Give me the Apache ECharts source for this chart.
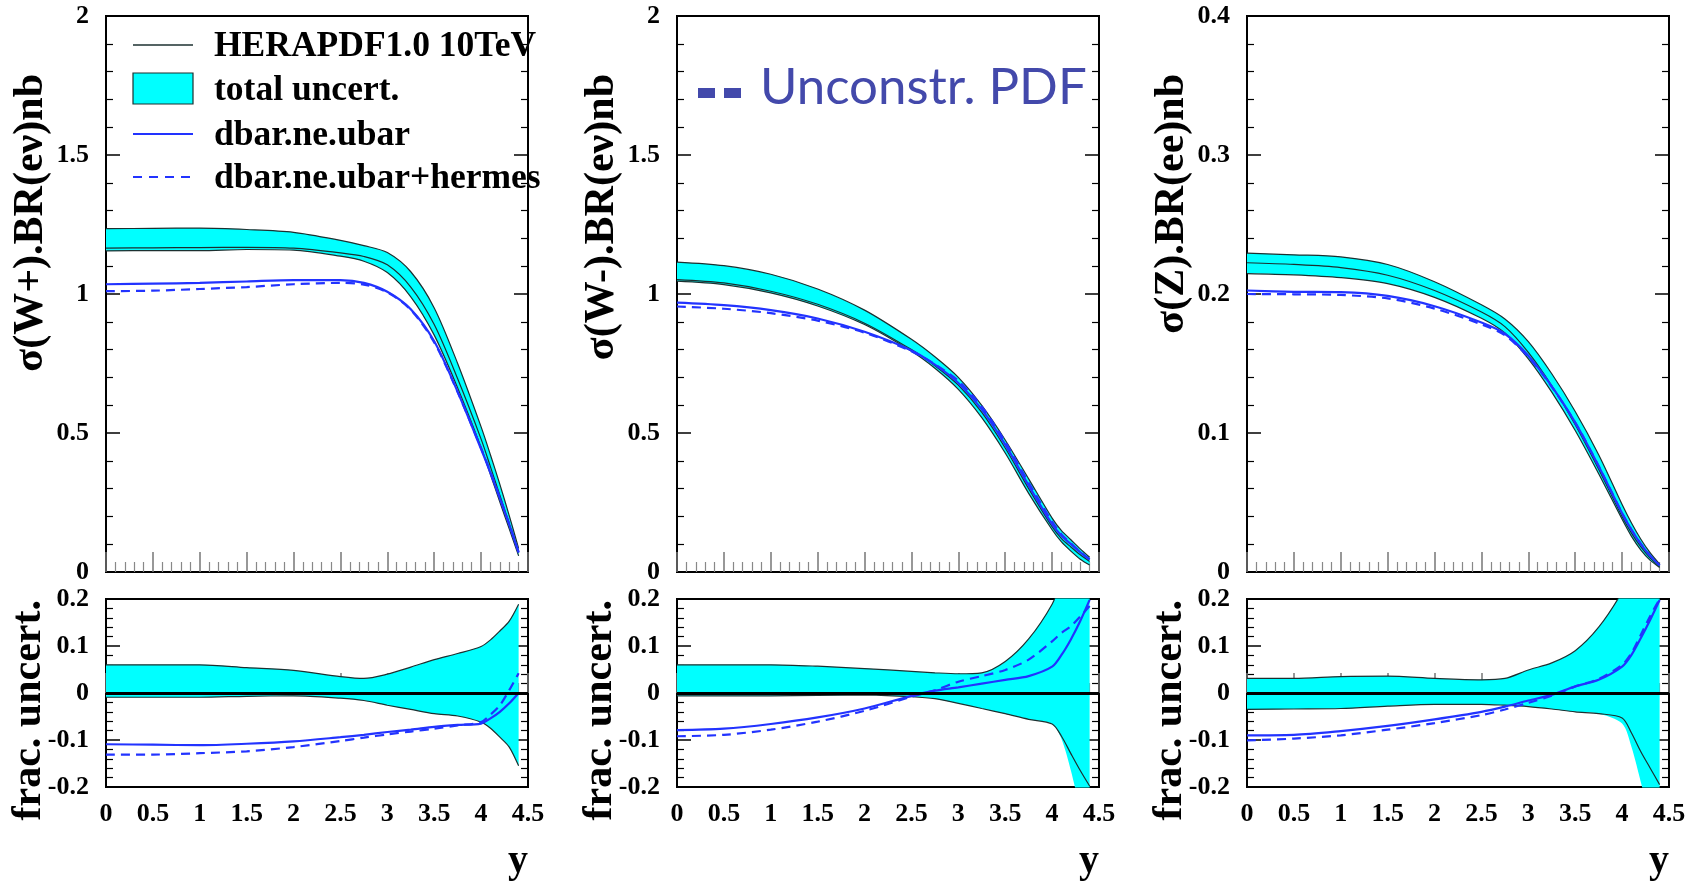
<!DOCTYPE html>
<html>
<head>
<meta charset="utf-8">
<title>W+, W-, Z rapidity distributions</title>
<script src="https://cdn.jsdelivr.net/npm/echarts@6/dist/echarts.min.js"></script>
<style>
    html, body {margin: 0; padding: 0; background: #fff;}
    #main {width: 1693px; height: 887px;}
</style>
</head>
<body>
<div id="main"></div>
<script>
// y points shared by every curve
var xs = [0, 0.5, 1, 1.5, 2, 2.5, 2.75, 3, 3.25, 3.5, 3.75, 4, 4.1, 4.2, 4.3, 4.4];

// sigma(W+).BR(ev) nb
var wpUp   = [1.235, 1.236, 1.237, 1.232, 1.222, 1.193, 1.174, 1.149, 1.080, 0.950, 0.750, 0.522, 0.421, 0.315, 0.203, 0.085];
var wpLo   = [1.155, 1.156, 1.156, 1.160, 1.158, 1.136, 1.118, 1.077, 0.990, 0.852, 0.662, 0.448, 0.350, 0.252, 0.155, 0.058];
var wpCen  = [1.165, 1.166, 1.167, 1.168, 1.165, 1.148, 1.135, 1.105, 1.025, 0.890, 0.695, 0.478, 0.378, 0.276, 0.174, 0.070];
var wpUbar = [1.035, 1.037, 1.040, 1.045, 1.050, 1.050, 1.040, 1.008, 0.945, 0.830, 0.648, 0.442, 0.356, 0.265, 0.170, 0.070];
var wpHerm = [1.010, 1.012, 1.018, 1.025, 1.035, 1.040, 1.034, 1.006, 0.943, 0.826, 0.647, 0.445, 0.360, 0.268, 0.173, 0.072];
// frac. uncert. W+
var wpFUp   = [0.060, 0.060, 0.060, 0.054, 0.048, 0.035, 0.031, 0.040, 0.055, 0.071, 0.084, 0.099, 0.113, 0.132, 0.153, 0.189];
var wpFLo   = [-0.009, -0.009, -0.009, -0.007, -0.006, -0.011, -0.016, -0.026, -0.035, -0.044, -0.049, -0.062, -0.075, -0.094, -0.115, -0.155];
var wpFUbar = [-0.109, -0.110, -0.111, -0.108, -0.103, -0.094, -0.089, -0.083, -0.078, -0.072, -0.068, -0.065, -0.054, -0.040, -0.022, 0.000];
var wpFHerm = [-0.131, -0.131, -0.128, -0.124, -0.115, -0.102, -0.095, -0.088, -0.082, -0.076, -0.069, -0.062, -0.046, -0.026, 0.006, 0.042];

// sigma(W-).BR(ev) nb
var wmUp   = [1.115, 1.102, 1.071, 1.018, 0.942, 0.837, 0.774, 0.700, 0.599, 0.475, 0.335, 0.194, 0.149, 0.116, 0.083, 0.053];
var wmLo   = [1.046, 1.034, 1.004, 0.957, 0.890, 0.794, 0.733, 0.657, 0.555, 0.428, 0.283, 0.152, 0.108, 0.075, 0.046, 0.025];
var wmCen  = [1.052, 1.040, 1.010, 0.963, 0.895, 0.800, 0.742, 0.672, 0.574, 0.446, 0.300, 0.163, 0.120, 0.090, 0.062, 0.038];
var wmUbar = [0.969, 0.960, 0.942, 0.912, 0.864, 0.797, 0.746, 0.680, 0.585, 0.458, 0.311, 0.172, 0.130, 0.100, 0.071, 0.045];
var wmHerm = [0.955, 0.947, 0.931, 0.904, 0.861, 0.794, 0.747, 0.688, 0.595, 0.468, 0.321, 0.181, 0.135, 0.103, 0.072, 0.045];
// frac. uncert. W-
var wmFUp   = [0.060, 0.060, 0.060, 0.057, 0.052, 0.046, 0.043, 0.041, 0.043, 0.067, 0.115, 0.189, 0.240, 0.290, 0.340, 0.390];
var wmFLo   = [-0.006, -0.006, -0.006, -0.005, -0.004, -0.008, -0.012, -0.022, -0.033, -0.044, -0.056, -0.066, -0.098, -0.165, -0.250, -0.340];
var wmFEdge = [-0.006, -0.006, -0.006, -0.005, -0.004, -0.008, -0.012, -0.022, -0.033, -0.044, -0.056, -0.066, -0.092, -0.129, -0.165, -0.198];
var wmFUbar = [-0.079, -0.076, -0.066, -0.052, -0.033, -0.006, 0.005, 0.012, 0.020, 0.028, 0.036, 0.056, 0.081, 0.114, 0.153, 0.198];
var wmFHerm = [-0.092, -0.089, -0.078, -0.061, -0.038, -0.008, 0.006, 0.024, 0.036, 0.049, 0.071, 0.110, 0.128, 0.142, 0.163, 0.185];

// sigma(Z).BR(ee) nb
var zUp   = [0.2294, 0.2282, 0.2267, 0.2212, 0.2088, 0.1922, 0.1820, 0.1657, 0.1426, 0.1155, 0.0844, 0.0486, 0.0353, 0.0236, 0.0137, 0.0057];
var zLo   = [0.2147, 0.2138, 0.2118, 0.2075, 0.1976, 0.1825, 0.1719, 0.1534, 0.1294, 0.1018, 0.0707, 0.0379, 0.0256, 0.0158, 0.0084, 0.0032];
var zCen  = [0.2225, 0.2213, 0.2190, 0.2135, 0.2025, 0.1870, 0.1765, 0.1580, 0.1340, 0.1060, 0.0740, 0.0400, 0.0280, 0.0180, 0.0100, 0.0040];
var zUbar = [0.2025, 0.2016, 0.2013, 0.1986, 0.1912, 0.1795, 0.1714, 0.1555, 0.1335, 0.1075, 0.0761, 0.0422, 0.0303, 0.0201, 0.0116, 0.0048];
var zHerm = [0.2000, 0.1998, 0.1993, 0.1968, 0.1895, 0.1782, 0.1703, 0.1547, 0.1332, 0.1075, 0.0762, 0.0424, 0.0304, 0.0202, 0.0116, 0.0048];
// frac. uncert. Z
var zFUp   = [0.031, 0.031, 0.035, 0.036, 0.031, 0.028, 0.031, 0.049, 0.064, 0.090, 0.140, 0.215, 0.260, 0.310, 0.370, 0.430];
var zFLo   = [-0.035, -0.034, -0.033, -0.028, -0.024, -0.024, -0.026, -0.029, -0.034, -0.040, -0.044, -0.065, -0.115, -0.190, -0.270, -0.350];
var zFEdge = [-0.035, -0.034, -0.033, -0.028, -0.024, -0.024, -0.026, -0.029, -0.034, -0.040, -0.044, -0.053, -0.085, -0.125, -0.160, -0.195];
var zFUbar = [-0.090, -0.089, -0.081, -0.070, -0.056, -0.040, -0.029, -0.016, -0.004, 0.014, 0.028, 0.056, 0.081, 0.117, 0.156, 0.198];
var zFHerm = [-0.101, -0.097, -0.090, -0.078, -0.064, -0.047, -0.035, -0.021, -0.006, 0.014, 0.030, 0.060, 0.085, 0.124, 0.164, 0.200];

// legend texts
var legendNames = ['HERAPDF1.0 10TeV', 'total uncert.', 'dbar.ne.ubar', 'dbar.ne.ubar+hermes'];

var panels = [
    {left: 106, yMax: 2, yInt: 0.5, title: 'σ(W+).BR(eν)nb',
        up: wpUp, lo: wpLo, cen: wpCen, ubar: wpUbar, herm: wpHerm,
        fUp: wpFUp, fLo: wpFLo, fEdge: null, fUbar: wpFUbar, fHerm: wpFHerm},
    {left: 677, yMax: 2, yInt: 0.5, title: 'σ(W-).BR(eν)nb',
        up: wmUp, lo: wmLo, cen: wmCen, ubar: wmUbar, herm: wmHerm,
        fUp: wmFUp, fLo: wmFLo, fEdge: wmFEdge, fUbar: wmFUbar, fHerm: wmFHerm},
    {left: 1247, yMax: 0.4, yInt: 0.1, title: 'σ(Z).BR(ee)nb',
        up: zUp, lo: zLo, cen: zCen, ubar: zUbar, herm: zHerm,
        fUp: zFUp, fLo: zFLo, fEdge: zFEdge, fUbar: zFUbar, fHerm: zFHerm}
];

var W = 422;            // frame width
var TOP = 16, TOPH = 556;
var BOT = 599, BOTH = 188;

var CYAN = '#00ffff';
var EDGE = '#1c3030';
var BLUE = '#2233ff';
var SERIF = '"Liberation Serif", "Times New Roman", serif';
var SM = 0.3;

var labelFont = {fontFamily: SERIF, fontWeight: 'bold', fontSize: 26, color: '#000'};

function pts(ys) {
    return xs.map(function (x, i) {
        return [x, ys[i]];
    });
}

//value first, so that the stack goes on y (x is a value axis too)
function ptsYX(ys) {
    return xs.map(function (x, i) {
        return [ys[i], x];
    });
}

var grids = [], xAxes = [], yAxes = [], series = [];

function makeY(g, min, max, interval, pos) {
    return {
        gridIndex: g, type: 'value', min: min, max: max, interval: interval, position: pos,
        axisLine: {show: false}, splitLine: {show: false},
        axisTick: {show: true, inside: true, length: 14, lineStyle: {color: '#000', width: 1.5}},
        minorTick: {show: true, splitNumber: 5, length: 7, lineStyle: {color: '#000', width: 1.2}},
        axisLabel: pos === 'left' ? Object.assign({show: true, margin: 17, padding: [6, 0, 0, 0]}, labelFont) : {show: false}
    };
}

function makeX(g, withLabels) {
    return {
        gridIndex: g, type: 'value', min: 0, max: 4.5, interval: 0.5,
        axisLine: {show: false}, splitLine: {show: false},
        axisTick: {show: true, inside: true, length: 20, lineStyle: {color: '#777', width: 1.5}},
        minorTick: {show: true, splitNumber: 5, length: 10, lineStyle: {color: '#888', width: 1.2}},
        axisLabel: withLabels ? Object.assign({show: true, margin: 14}, labelFont) : {show: false}
    };
}

function line(xi, yi, ys, color, width, dash, z) {
    return {
        type: 'line', xAxisIndex: xi, yAxisIndex: yi, data: pts(ys),
        smooth: SM, symbol: 'none', silent: true, z: z || 3,
        lineStyle: {color: color, width: width, type: dash || 'solid'}
    };
}

//cyan band = lower line + stacked difference
function band(xi, yi, lo, up, key, hideLow) {
    var diff = up.map(function (u, i) {
        return +(u - lo[i]).toFixed(5);
    });
    series.push({
        type: 'line', xAxisIndex: xi, yAxisIndex: yi, data: ptsYX(lo), encode: {x: 1, y: 0},
        stack: key, stackStrategy: 'all', smooth: SM, symbol: 'none', silent: true, z: 2,
        lineStyle: {color: EDGE, width: hideLow ? 0 : 1.2, opacity: hideLow ? 0 : 1}
    });
    series.push({
        type: 'line', xAxisIndex: xi, yAxisIndex: yi, data: ptsYX(diff), encode: {x: 1, y: 0},
        stack: key, stackStrategy: 'all', smooth: SM, symbol: 'none', silent: true, z: 2,
        areaStyle: {color: CYAN, opacity: 1},
        lineStyle: {color: EDGE, width: 1.2}
    });
}

panels.forEach(function (p, k) {
    var gTop = 2 * k, gBot = 2 * k + 1;
    var common = {show: true, borderColor: '#000', borderWidth: 2, backgroundColor: 'transparent',
        containLabel: false, outerBoundsMode: 'none'};
    grids.push(Object.assign({left: p.left, top: TOP, width: W, height: TOPH}, common));
    grids.push(Object.assign({left: p.left, top: BOT, width: W, height: BOTH}, common));

    xAxes.push(makeX(gTop, false));
    xAxes.push(makeX(gBot, true));

    var yTopL = yAxes.length;
    yAxes.push(makeY(gTop, 0, p.yMax, p.yInt, 'left'));
    yAxes.push(makeY(gTop, 0, p.yMax, p.yInt, 'right'));
    var yBotL = yAxes.length;
    yAxes.push(makeY(gBot, -0.2, 0.2, 0.1, 'left'));
    yAxes.push(makeY(gBot, -0.2, 0.2, 0.1, 'right'));

    //upper panel
    band(gTop, yTopL, p.lo, p.up, 'top' + k, false);
    series.push(line(gTop, yTopL, p.cen, EDGE, 1.2));
    series.push(line(gTop, yTopL, p.ubar, BLUE, 2.2, null, 4));
    series.push(line(gTop, yTopL, p.herm, BLUE, 2.2, [9, 6], 4));

    //ratio panel
    band(gBot, yBotL, p.fLo, p.fUp, 'bot' + k, !!p.fEdge);
    if (p.fEdge) {
        series.push(line(gBot, yBotL, p.fEdge, EDGE, 1.2));
    }
    series.push({
        type: 'line', xAxisIndex: gBot, yAxisIndex: yBotL, data: [], silent: true, z: 3,
        markLine: {
            silent: true, symbol: 'none', animation: false, label: {show: false},
            lineStyle: {color: '#000', width: 3, type: 'solid'},
            data: [{yAxis: 0}]
        }
    });
    series.push(line(gBot, yBotL, p.fUbar, BLUE, 2.2, null, 4));
    series.push(line(gBot, yBotL, p.fHerm, BLUE, 2.2, [9, 6], 4));
});

//texts and legend drawn as graphic
var graphic = [];
panels.forEach(function (p) {
    graphic.push({
        type: 'text', x: p.left - 75, y: 74, rotation: Math.PI / 2, silent: true,
        style: {text: p.title, fontFamily: SERIF, fontWeight: 'bold', fontSize: 42,
            fill: '#000', align: 'right', verticalAlign: 'middle'}
    });
    graphic.push({
        type: 'text', x: p.left - 77, y: 600, rotation: Math.PI / 2, silent: true,
        style: {text: 'frac. uncert.', fontFamily: SERIF, fontWeight: 'bold', fontSize: 42,
            fill: '#000', align: 'right', verticalAlign: 'middle'}
    });
    graphic.push({
        type: 'text', x: p.left + W - 10, y: 862, silent: true,
        style: {text: 'y', fontFamily: SERIF, fontWeight: 'bold', fontSize: 40,
            fill: '#000', align: 'center', verticalAlign: 'middle'}
    });
});

var lgX1 = 133, lgX2 = 193, lgTx = 214;
var lgY = [45, 89, 134, 177];
graphic.push({type: 'line', silent: true, shape: {x1: lgX1, y1: lgY[0], x2: lgX2, y2: lgY[0]},
    style: {stroke: EDGE, lineWidth: 1.3}});
graphic.push({type: 'rect', silent: true, shape: {x: lgX1, y: 73, width: lgX2 - lgX1, height: 31},
    style: {fill: CYAN, stroke: EDGE, lineWidth: 1.2}});
graphic.push({type: 'line', silent: true, shape: {x1: lgX1, y1: lgY[2], x2: lgX2, y2: lgY[2]},
    style: {stroke: BLUE, lineWidth: 2.2}});
graphic.push({type: 'line', silent: true, shape: {x1: lgX1, y1: lgY[3], x2: lgX2, y2: lgY[3]},
    style: {stroke: BLUE, lineWidth: 2.2, lineDash: [9, 7]}});
legendNames.forEach(function (t, i) {
    graphic.push({
        type: 'text', x: lgTx, y: lgY[i] + 2, silent: true,
        style: {text: t, fontFamily: SERIF, fontWeight: 'bold', fontSize: 35.5,
            fill: '#000', align: 'left', verticalAlign: 'middle'}
    });
});

// "-- Unconstr. PDF" label in the middle panel
graphic.push({type: 'rect', silent: true, shape: {x: 698, y: 88, width: 17, height: 10}, style: {fill: '#4349ab'}});
graphic.push({type: 'rect', silent: true, shape: {x: 724, y: 88, width: 17, height: 10}, style: {fill: '#4349ab'}});
graphic.push({
    type: 'text', x: 760, y: 88, silent: true,
    style: {text: 'Unconstr. PDF', fontFamily: 'Lato, "Open Sans", sans-serif', fontSize: 51,
        fill: '#4349ab', align: 'left', verticalAlign: 'middle'}
});

var chart = echarts.init(document.getElementById('main'), null, {renderer: 'canvas'});
chart.setOption({
    animation: false,
    backgroundColor: '#fff',
    textStyle: {fontFamily: SERIF},
    grid: grids,
    xAxis: xAxes,
    yAxis: yAxes,
    series: series,
    graphic: graphic
});
</script>
</body>
</html>
